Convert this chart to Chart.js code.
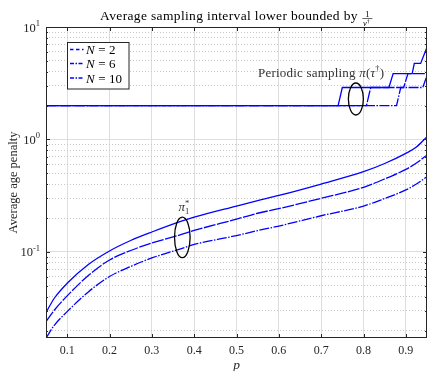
<!DOCTYPE html>
<html><head><meta charset="utf-8">
<script src="https://cdn.jsdelivr.net/npm/chart.js@4.4.0/dist/chart.umd.min.js"></script>
<style>html,body{margin:0;padding:0;background:#fff;}canvas{display:block;}</style>
</head><body>
<canvas id="c" width="429" height="371"></canvas>
<script>
// ---------- data ----------
const pValues   = [0.05, 0.07, 0.10, 0.15, 0.20, 0.25, 0.30, 0.37, 0.40, 0.50, 0.55, 0.60, 0.70, 0.80, 0.85, 0.90, 0.925, 0.95];
const penaltyTop = [0.029, 0.039, 0.0527, 0.0774, 0.1021, 0.1265, 0.1506, 0.188, 0.204, 0.256, 0.286, 0.318, 0.402, 0.517, 0.612, 0.753, 0.857, 1.06];
const penaltyMid = [0.024, 0.0305, 0.0407, 0.0618, 0.0849, 0.1031, 0.1202, 0.1431, 0.1553, 0.196, 0.221, 0.243, 0.300, 0.376, 0.446, 0.543, 0.618, 0.728];
const penaltyBot = [0.0172, 0.0224, 0.0295, 0.0442, 0.0605, 0.0743, 0.0885, 0.1074, 0.1166, 0.140, 0.155, 0.170, 0.210, 0.256, 0.299, 0.356, 0.402, 0.467];

const periodicTopP = [0.05, 0.74, 0.75, 0.86, 0.87, 0.915, 0.92, 0.935, 0.95];
const periodicTopV = [2, 2, 2.9, 2.9, 3.85, 3.85, 4.75, 4.75, 6.6];
const periodicMidP = [0.05, 0.807, 0.817, 0.895, 0.905, 0.95];
const periodicMidV = [2, 2, 2.9, 2.9, 3.85, 3.85];
const periodicBotP = [0.05, 0.878, 0.888, 0.94, 0.95];
const periodicBotV = [2, 2, 2.9, 2.9, 3.7];

const legendLabels = ['2', '6', '10'];
const xTicks = [0.1, 0.2, 0.3, 0.4, 0.5, 0.6, 0.7, 0.8, 0.9];
const xTickLabels = ['0.1', '0.2', '0.3', '0.4', '0.5', '0.6', '0.7', '0.8', '0.9'];
const yMajorTicks = [0.1, 1, 10];
const yMajorExp = ['-1', '0', '1'];
const yMinorTicks = [0.02, 0.03, 0.04, 0.05, 0.06, 0.07, 0.08, 0.09, 0.2, 0.3, 0.4, 0.5, 0.6, 0.7, 0.8, 0.9, 2, 3, 4, 5, 6, 7, 8, 9];

// annotation anchors (data units)
const ellipseP = [0.782, 0.372];
const ellipseV = [2.29, 0.135];
const periodicLabelAt = [0.551, 3.96];
const piLabelAt = [0.376, 0.246];

// ---------- styles ----------
const SERIF = '"Liberation Serif", "DejaVu Serif", serif';
const BLUE = '#0000ff';
const TXT = '#262626';
const styleTop = [];
const styleMid = [12, 1.5];
const styleBot = [10, 1.5, 1.5, 1.5];
const legendDash = [[3.5, 2.5], [4, 1.5, 1.5, 1.5], [4, 1.5, 1.5, 1.5]];

function pts(px, py) { return px.map((p, i) => ({x: p, y: py[i]})); }
function curve(label, data, dash) {
  return {label, data, borderColor: BLUE, borderWidth: 1.3, borderDash: dash,
          pointRadius: 0, fill: false, cubicInterpolationMode: 'monotone'};
}
function step(data, dash) {
  return {label: '', data, borderColor: BLUE, borderWidth: 1.3, borderDash: dash,
          pointRadius: 0, fill: false, tension: 0};
}

function drawRich(ctx, segs, x, y) {
  let cx = x;
  segs.forEach(s => { ctx.font = s.font; ctx.fillText(s.t, cx, y + (s.dy || 0)); cx += ctx.measureText(s.t).width + (s.gap || 0); });
  return cx;
}

const decor = {
  id: 'decor',
  afterDraw(chart) {
    const {ctx, chartArea: a, scales: {x, y}} = chart;
    ctx.save();
    ctx.strokeStyle = TXT; ctx.lineWidth = 1;
    // inner ticks
    ctx.beginPath();
    xTicks.forEach(v => {
      const px = Math.round(x.getPixelForValue(v)) + 0.5;
      ctx.moveTo(px, a.bottom); ctx.lineTo(px, a.bottom - 4);
      ctx.moveTo(px, a.top); ctx.lineTo(px, a.top + 4);
    });
    yMajorTicks.forEach(v => {
      const py = Math.round(y.getPixelForValue(v)) + 0.5;
      ctx.moveTo(a.left, py); ctx.lineTo(a.left + 4, py);
      ctx.moveTo(a.right, py); ctx.lineTo(a.right - 4, py);
    });
    yMinorTicks.forEach(v => {
      const py = Math.round(y.getPixelForValue(v)) + 0.5;
      ctx.moveTo(a.left, py); ctx.lineTo(a.left + 2, py);
      ctx.moveTo(a.right, py); ctx.lineTo(a.right - 2, py);
    });
    ctx.stroke();
    ctx.strokeRect(a.left + 0.5, a.top + 0.5, a.right - a.left - 1, a.bottom - a.top - 1);

    // y tick labels 10^k
    ctx.fillStyle = TXT; ctx.textBaseline = 'alphabetic';
    yMajorTicks.forEach((v, i) => {
      const py = y.getPixelForValue(v);
      ctx.font = '8.5px ' + SERIF;
      const we = ctx.measureText(yMajorExp[i]).width;
      ctx.textAlign = 'left';
      ctx.fillText(yMajorExp[i], a.left - 6 - we, py - 1);
      ctx.font = '12.5px ' + SERIF;
      ctx.textAlign = 'right';
      ctx.fillText('10', a.left - 6 - we, py + 4.5);
    });

    // title
    ctx.textAlign = 'left'; ctx.fillStyle = '#000';
    ctx.font = '13.5px ' + SERIF;
    ctx.letterSpacing = '0.35px';
    const title = 'Average sampling interval lower bounded by';
    const tw = ctx.measureText(title).width;
    const total = tw + 4 + 11;
    const cxm = (a.left + a.right) / 2;
    const tx = cxm - total / 2;
    ctx.fillText(title, tx, 20);
    ctx.letterSpacing = '0px';
    const fx = tx + tw + 4 + 5.5;
    ctx.font = '8.5px ' + SERIF; ctx.textAlign = 'center';
    ctx.fillText('1', fx, 16.5);
    ctx.beginPath(); ctx.moveTo(fx - 5, 18.5); ctx.lineTo(fx + 5, 18.5); ctx.lineWidth = 0.6; ctx.strokeStyle = '#000'; ctx.stroke();
    ctx.textAlign = 'left';
    drawRich(ctx, [{t: 'ν', font: 'italic 8.5px ' + SERIF}, {t: '†', font: '6px ' + SERIF, dy: -2.5}], fx - 4.5, 25.5);

    // legend
    const lx = 67.5, ly = 42.5, lw = 61.5, lh = 46.5;
    ctx.fillStyle = '#fff'; ctx.fillRect(lx, ly, lw, lh);
    ctx.strokeStyle = TXT; ctx.lineWidth = 1; ctx.setLineDash([]);
    ctx.strokeRect(lx, ly, lw, lh);
    const rowBase = [54, 68, 82.5];
    legendLabels.forEach((lab, i) => {
      const cy = rowBase[i] - 4.5;
      ctx.beginPath(); ctx.strokeStyle = BLUE; ctx.lineWidth = 1.3; ctx.setLineDash(legendDash[i]);
      ctx.moveTo(70, cy); ctx.lineTo(83.5, cy); ctx.stroke();
      ctx.setLineDash([]);
      ctx.fillStyle = '#000';
      drawRich(ctx, [{t: 'N', font: 'italic 13px ' + SERIF, gap: 3.5}, {t: '=', font: '13px ' + SERIF, gap: 3.5}, {t: lab, font: '13px ' + SERIF}], 86, rowBase[i]);
    });

    // ellipses
    ctx.strokeStyle = '#000'; ctx.lineWidth = 1.3;
    const radii = [[7.5, 16], [7.8, 20.3]];
    ellipseP.forEach((p, i) => {
      ctx.beginPath();
      ctx.ellipse(x.getPixelForValue(p), y.getPixelForValue(ellipseV[i]), radii[i][0], radii[i][1], 0, 0, Math.PI * 2);
      ctx.stroke();
    });

    // annotation texts
    ctx.fillStyle = '#333';
    ctx.letterSpacing = '0.2px';
    const px1 = x.getPixelForValue(periodicLabelAt[0]), py1 = y.getPixelForValue(periodicLabelAt[1]) + 4.5;
    drawRich(ctx, [
      {t: 'Periodic sampling ', font: '13px ' + SERIF},
      {t: 'π', font: 'italic 13px ' + SERIF},
      {t: '(', font: '13px ' + SERIF},
      {t: 'τ', font: 'italic 13px ' + SERIF},
      {t: '†', font: '8.5px ' + SERIF, dy: -5.5},
      {t: ')', font: '13px ' + SERIF}
    ], px1, py1);
    ctx.letterSpacing = '0px';
    const px2 = x.getPixelForValue(piLabelAt[0]), py2 = y.getPixelForValue(piLabelAt[1]) + 3;
    ctx.font = 'italic 13px ' + SERIF;
    const wpi = ctx.measureText('π').width;
    ctx.fillText('π', px2 - 5.5, py2);
    ctx.font = '8.5px ' + SERIF;
    ctx.fillText('1', px2 - 5.5 + wpi, py2 + 2.5);
    ctx.fillText('*', px2 - 5.5 + wpi, py2 - 5);
    ctx.restore();
  }
};

new Chart(document.getElementById('c'), {
  type: 'line',
  data: {
    datasets: [
      curve('N = 10', pts(pValues, penaltyTop), styleTop),
      curve('N = 2', pts(pValues, penaltyMid), styleMid),
      curve('N = 6', pts(pValues, penaltyBot), styleBot),
      step(pts(periodicTopP, periodicTopV), styleTop),
      step(pts(periodicMidP, periodicMidV), styleMid),
      step(pts(periodicBotP, periodicBotV), styleBot)
    ]
  },
  options: {
    responsive: false, animation: false, devicePixelRatio: 1,
    layout: {padding: {left: 0, right: 2, top: 27, bottom: 0}},
    plugins: {legend: {display: false}, title: {display: false}, tooltip: {enabled: false}},
    scales: {
      x: {
        type: 'linear', min: 0.05, max: 0.95,
        afterBuildTicks: s => { s.ticks = xTicks.map(v => ({value: v})); },
        afterFit: s => { s.height = 33; },
        ticks: {autoSkip: false, maxRotation: 0, padding: 5.5, color: TXT,
                font: {family: SERIF, size: 12},
                callback: (v) => { const i = xTicks.indexOf(v); return i >= 0 ? xTickLabels[i] : ''; }},
        grid: {color: '#dedede', lineWidth: 1, drawTicks: false},
        border: {display: false},
        title: {display: true, text: 'p', color: TXT, font: {family: SERIF, size: 13.5, style: 'italic', lineHeight: 0.8}, padding: 0}
      },
      y: {
        type: 'logarithmic', min: 0.0172, max: 10,
        afterBuildTicks: s => {
          const all = yMinorTicks.concat(yMajorTicks).sort((a, b) => a - b);
          s.ticks = all.map(v => ({value: v, major: yMajorTicks.includes(v)}));
        },
        afterFit: s => { s.width = 46; },
        ticks: {display: false, autoSkip: false},
        grid: {
          drawTicks: false, lineWidth: 1,
          color: c => (c.tick && yMajorTicks.includes(c.tick.value)) ? '#dedede' : '#c8c8c8'
        },
        border: {display: false,
          dash: c => (c.tick && !yMajorTicks.includes(c.tick.value)) ? [1, 2] : []},
        title: {display: true, text: 'Average age penalty', color: TXT, font: {family: SERIF, size: 12.5}, padding: {top: 6.5, bottom: 0}}
      }
    }
  },
  plugins: [decor]
});
</script>
</body></html>
